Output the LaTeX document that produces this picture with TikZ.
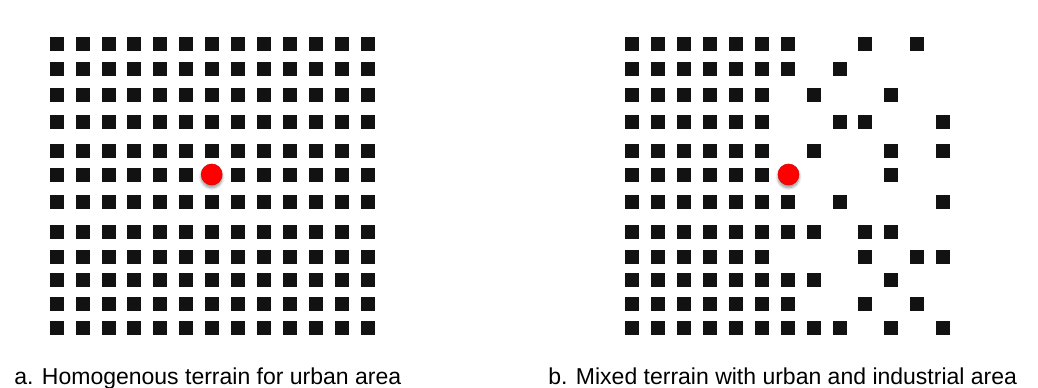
\documentclass[tikz,border=0pt]{standalone}
\usepackage{fontspec}
\setmainfont{Liberation Sans}
\usetikzlibrary{shadows.blur}

\tikzset{
  site/.style={circle, fill=red, draw=red!85!black, line width=0.4pt,
    minimum size=21*0.75pt, inner sep=0pt,
    blur shadow={shadow xshift=0pt, shadow yshift=-2pt, shadow blur steps=6, shadow opacity=45}},
  caption/.style={anchor=base west, inner sep=0pt, font=\fontsize{17.25}{20}\selectfont}
}

\begin{document}
\begin{tikzpicture}[x=0.75pt, y=-0.75pt]
  \useasboundingbox (0,0) rectangle (1038,388);

  % a: every block of the grid is built up
  \foreach \y in {44,69.3,95,121.7,151,175,202.3,231.7,257.3,280,304.3,328.3}
    \foreach \c in {0,...,12}
      \fill[black!93] ({56.7+25.9*\c-7},\y-7) rectangle ++(14,14);
  % the site itself sits on top of one block
  \fill[white] (204.7,168) rectangle ++(14,14);
  \node[site] (siteA) at (211.7,174.5) {};

  % b: built-up part on the left, scattered plants on the right
  \foreach \y/\cols in {
      44/{0,...,6,9,11},
      69.3/{0,...,6,8},
      95/{0,...,5,7,10},
      121.7/{0,...,5,8,9,12},
      151/{0,...,5,7,10,12},
      175/{0,...,5,10},
      202.3/{0,...,6,8,12},
      231.7/{0,...,7,9,10},
      257.3/{0,...,5,9,11,12},
      280/{0,...,7,10},
      304.3/{0,...,6,9,11},
      328.3/{0,...,8,10,12}}
    \foreach \c in \cols
      \fill[black!93] ({632.3+25.9*\c-7},\y-7) rectangle ++(14,14);
  \node[site] (siteB) at (788.5,174.5) {};

  \node[caption] (capA) at (14,384) {a. Homogenous terrain for urban area};
  \node[caption] (capB) at (548,384) {b. Mixed terrain with urban and industrial area};
\end{tikzpicture}
\end{document}
